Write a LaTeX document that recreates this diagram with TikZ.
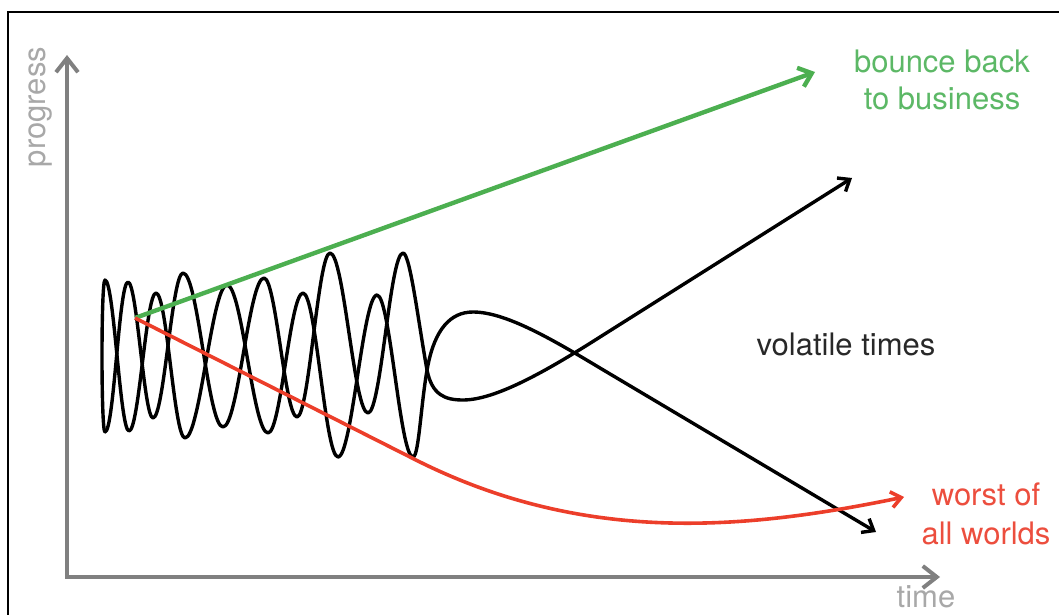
\documentclass[tikz,border=0pt]{standalone}
\usepackage{fontspec}
\setmainfont{TeX Gyre Heros}
\usetikzlibrary{arrows.meta}
\definecolor{axisgray}{RGB}{128,128,128}
\definecolor{labelgray}{RGB}{168,168,168}
\definecolor{bouncegreen}{RGB}{76,175,80}
\definecolor{bouncetext}{RGB}{92,184,102}
\definecolor{worstred}{RGB}{236,62,42}
\definecolor{worsttext}{RGB}{236,78,62}
\definecolor{voltext}{RGB}{40,40,40}

\begin{document}
\begin{tikzpicture}[x=0.5pt,y=-0.5pt,
  axis/.style={axisgray,line width=2pt,{Straight Barb[length=7pt,width=11pt]}-{Straight Barb[length=7pt,width=11pt]}},
  wave/.style={black,line width=1.7pt,line cap=round,line join=round},
  tip/.style={-{Straight Barb[length=5pt,width=8pt]}},
  lbl/.style={font=\fontsize{15.5}{18.3}\selectfont,inner sep=0pt,align=center}]
  \useasboundingbox (0,0) rectangle (1059,615);
  \draw[line width=1pt] (8,615) |- (1059,12);
  % axes
  \coordinate (origin) at (67,577);
  \coordinate (ytop) at (67,55);
  \coordinate (xend) at (940,577);
  \draw[axis] (ytop) -- (origin) -- (xend);
  \node[lbl,labelgray,rotate=90,anchor=base] (progress) at (45,107) {progress};
  \node[lbl,labelgray,anchor=base] (time) at (926,607) {time};
  % end points
  \coordinate (start) at (135,318);
  \coordinate (bounce) at (815,72);
  \coordinate (worst) at (904,497);
  \coordinate (up) at (852,178);
  \coordinate (down) at (876,532);
  % the two oscillations
  \draw[wave,tip] (105,432) .. controls (101,432) and (101,280) .. (105,280)
    \foreach \x/\y/\d [evaluate=\x as \c using \x-\d] in {129/431/9, 156/293/10, 185/438/11, 227/285/15, 268/433/15, 303/293/13, 338/457/13, 377/295/14, 413/457/13}
      { .. controls +(\d,0) and (\c,\y) .. (\x,\y) }
    .. controls (419,457) and (421,400) .. (428,365)
    .. controls (435,330) and (450,312) .. (473,312)
    .. controls (505,312) and (550,338) .. (600,368) -- (down);
  \draw[wave,tip] (105,432)
    \foreach \x/\y/\d [evaluate=\x as \c using \x-\d] in {128/282/9, 153/418/9, 183/273/11, 223/427/15, 264/278/15, 297/417/12, 330/253/12, 368/413/14, 403/253/13}
      { .. controls +(\d,0) and (\c,\y) .. (\x,\y) }
    .. controls (410,253) and (418,320) .. (427,370)
    .. controls (432,395) and (445,400) .. (463,400)
    .. controls (495,400) and (545,372) .. (600,337) -- (up);
  % bounce back and worst case
  \draw[bouncegreen,line width=2.2pt,-{Straight Barb[length=6pt,width=10pt]}] (start) -- (bounce);
  \draw[worstred,line width=1.8pt,tip] (start) -- (412,458) .. controls (580,544) and (740,531) .. (worst);
  \node[lbl,bouncetext,anchor=north] (bouncelbl) at (942,50) {bounce back\\to business};
  \node[lbl,worsttext,anchor=north,font=\fontsize{15.5}{19.5}\selectfont] (worstlbl) at (986,482) {worst of\\all worlds};
  \node[lbl,voltext,anchor=base] (volatile) at (846,355) {volatile times};
\end{tikzpicture}
\end{document}
